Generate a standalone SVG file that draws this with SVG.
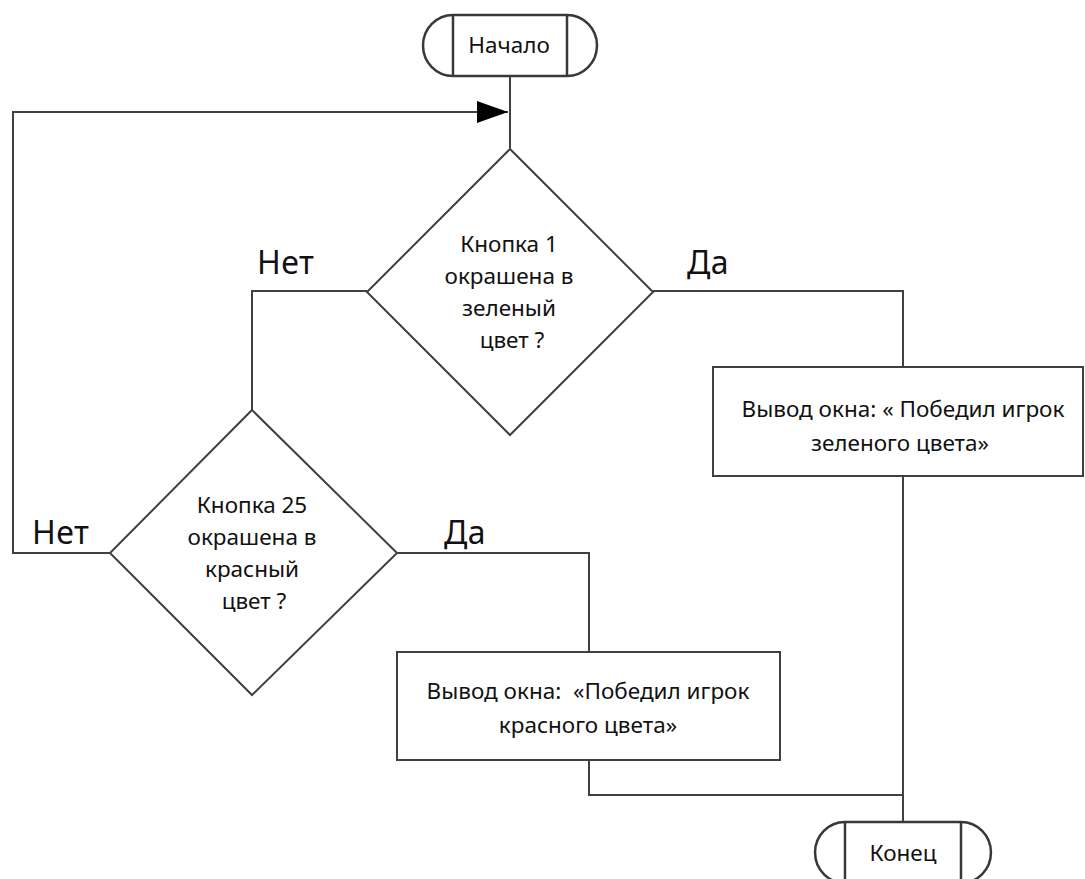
<svg xmlns="http://www.w3.org/2000/svg" width="1085" height="879" viewBox="0 0 1085 879">
  <style>
    .shape { fill: #ffffff; stroke: #404040; stroke-width: 2; }
    .term { fill: #ffffff; stroke: #383838; stroke-width: 2.5; }
    .edge { fill: none; stroke: #404040; stroke-width: 2; }
    .t { font-family: "Noto Sans", "Open Sans", sans-serif; font-size: 22.5px; fill: #111111; text-anchor: middle; white-space: pre; }
    .lbl { font-family: "Noto Sans", "Open Sans", sans-serif; font-size: 32px; fill: #111111; letter-spacing: 0.5px; }
  </style>
  <defs>
    <marker id="arrow" markerUnits="userSpaceOnUse" markerWidth="32" markerHeight="24" refX="31" refY="11" orient="auto">
      <path d="M0,0 L31,11 L0,22 Z" fill="#000000"/>
    </marker>
  </defs>
  <rect width="1085" height="879" fill="#ffffff"/>

  <!-- connectors -->
  <g id="connectors">
    <path class="edge" d="M510,76 V148"/>
    <path class="edge" d="M110,553 H13 V112 H508" marker-end="url(#arrow)"/>
    <path class="edge" d="M653,291 H903 V367"/>
    <path class="edge" d="M367,291 H252 V410"/>
    <path class="edge" d="M397,553 H589 V652"/>
    <path class="edge" d="M903,476 V822"/>
    <path class="edge" d="M589,760 V795 H903"/>
    <text class="lbl" x="257" y="274">Нет</text>
    <text class="lbl" x="687" y="274">Да</text>
    <text class="lbl" x="32" y="544">Нет</text>
    <text class="lbl" x="444" y="544">Да</text>
  </g>

  <!-- start terminal -->
  <g id="start">
    <path class="term" d="M453,15 H567 A30,30.5 0 0 1 567,76 H453 A30,30.5 0 0 1 453,15 Z"/>
    <line class="term" x1="453" y1="15" x2="453" y2="76"/>
    <line class="term" x1="567" y1="15" x2="567" y2="76"/>
    <text class="t" x="509" y="53">Начало</text>
  </g>

  <!-- decision: button 1 -->
  <g id="decision1">
    <polygon class="shape" points="510,149 653,292 510,435 367,292"/>
    <text class="t" x="509" y="252">Кнопка 1</text>
    <text class="t" x="509" y="284">окрашена в</text>
    <text class="t" x="509" y="316">зеленый</text>
    <text class="t" x="512" y="348">цвет ?</text>
  </g>

  <!-- output: green wins -->
  <g id="outGreen">
    <rect class="shape" x="713" y="367" width="370" height="109"/>
    <text class="t" x="903" y="417">Вывод окна: « Победил игрок</text>
    <text class="t" x="900" y="451">зеленого цвета»</text>
  </g>

  <!-- decision: button 25 -->
  <g id="decision2">
    <polygon class="shape" points="252,410 397,553 252,695 110,553"/>
    <text class="t" x="252" y="513">Кнопка 25</text>
    <text class="t" x="252" y="545">окрашена в</text>
    <text class="t" x="252" y="577">красный</text>
    <text class="t" x="254" y="609">цвет ?</text>
  </g>

  <!-- output: red wins -->
  <g id="outRed">
    <rect class="shape" x="397" y="652" width="383" height="108"/>
    <text class="t" x="588" y="699">Вывод окна:  «Победил игрок</text>
    <text class="t" x="588" y="733">красного цвета»</text>
  </g>

  <!-- end terminal -->
  <g id="end">
    <path class="term" d="M845,822 H961 A30,30.5 0 0 1 961,883 H845 A30,30.5 0 0 1 845,822 Z"/>
    <line class="term" x1="845" y1="822" x2="845" y2="883"/>
    <line class="term" x1="961" y1="822" x2="961" y2="883"/>
    <text class="t" x="903" y="861">Конец</text>
  </g>
</svg>
